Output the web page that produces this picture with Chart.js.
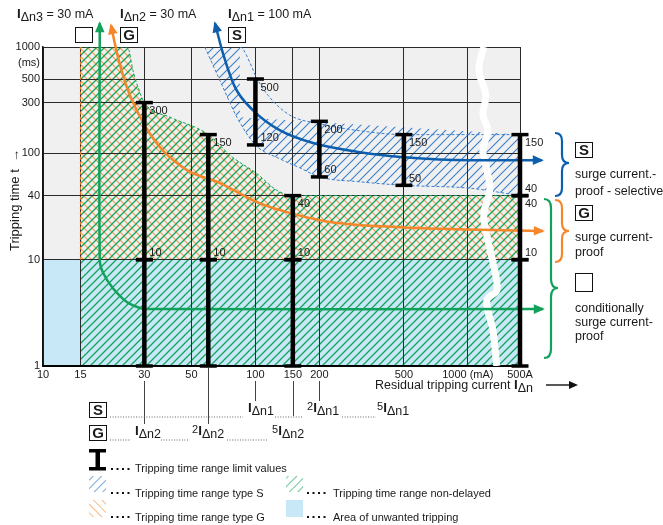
<!DOCTYPE html>
<html>
<head>
<meta charset="utf-8">
<title>RCD tripping time ranges</title>
<script src="https://cdn.jsdelivr.net/npm/chart.js@4.4.1/dist/chart.umd.min.js"></script>
<style>
  body { margin: 0; background: #fff; }
  #wrap { position: relative; width: 663px; height: 525px; overflow: hidden;
          font-family: "Liberation Sans", Arial, sans-serif; color: #1a1a1a; }
  #chart { position: absolute; left: 0; top: 0; }
  #deco { position: absolute; left: 0; top: 0; pointer-events: none; }
  .t { position: absolute; white-space: nowrap; font-size: 12.5px; line-height: 14px; }
  .s { font-size: 11px; }
  .I { font-weight: bold; font-size: 13.5px; }
  .sub { position: relative; top: 3px; }
  .sup { font-size: 11px; position: relative; top: -2px; }
  .box { position: absolute; box-sizing: border-box; width: 18px; height: 16px;
         border: 1.5px solid #111; background: #fff; font-weight: bold;
         font-size: 15px; line-height: 13px; text-align: center; }
</style>
</head>
<body>
<div id="wrap">
  <canvas id="chart" width="663" height="525"></canvas>

  <svg id="deco" width="663" height="525">
    <defs>
      <pattern id="hatchS" patternUnits="userSpaceOnUse" width="6" height="6" patternTransform="rotate(45)">
        <line x1="0" y1="0" x2="0" y2="6" stroke="#2f78c8" stroke-width="1.3"/>
      </pattern>
      <pattern id="hatchG" patternUnits="userSpaceOnUse" width="6" height="6" patternTransform="rotate(-45)">
        <line x1="0" y1="0" x2="0" y2="6" stroke="#f3953f" stroke-width="1.3"/>
      </pattern>
      <pattern id="hatchN" patternUnits="userSpaceOnUse" width="6" height="6" patternTransform="rotate(45)">
        <line x1="0" y1="0" x2="0" y2="6" stroke="#1fa862" stroke-width="1.3"/>
      </pattern>
    </defs>
    <!-- braces -->
    <path d="M555,133 Q562,133 562,141 L562,155 Q562,163 569,163 Q562,163 562,171 L562,188 Q562,196 555,196"
          fill="none" stroke="#0d5fae" stroke-width="2.2"/>
    <path d="M555,200 Q562,200 562,208 L562,223 Q562,231 569,231 Q562,231 562,239 L562,254 Q562,262 555,262"
          fill="none" stroke="#f5862a" stroke-width="2.2"/>
    <path d="M544,199 Q551,199 551,208 L551,279 Q551,288 558,288 Q551,288 551,297 L551,349 Q551,358 544,358"
          fill="none" stroke="#12a15a" stroke-width="2.2"/>
    <!-- x title arrow -->
    <line x1="546" y1="385" x2="571" y2="385" stroke="#111" stroke-width="1.4"/>
    <polygon points="578,385 569,381 569,389" fill="#111"/>
    <!-- dotted guide rows -->
    <g stroke="#666" stroke-width="1" stroke-dasharray="1 1.6">
      <line x1="110" y1="417" x2="243" y2="417"/>
      <line x1="275" y1="417" x2="303" y2="417"/>
      <line x1="342" y1="417" x2="376" y2="417"/>
      <line x1="110" y1="440" x2="131" y2="440"/>
      <line x1="161" y1="440" x2="189" y2="440"/>
      <line x1="227" y1="440" x2="267" y2="440"/>
    </g>
    <!-- legend icons -->
    <rect x="89" y="449" width="17" height="3.5" fill="#000"/>
    <rect x="95.5" y="450" width="4.5" height="19" fill="#000"/>
    <rect x="89" y="467" width="17" height="3.5" fill="#000"/>
    <rect x="89" y="476" width="17" height="16" fill="url(#hatchS)"/>
    <rect x="89" y="500" width="17" height="17" fill="url(#hatchG)"/>
    <rect x="286" y="476" width="17" height="16" fill="url(#hatchN)"/>
    <rect x="286" y="500" width="17" height="17" fill="#c8e8f8"/>
    <g stroke="#111" stroke-width="2" stroke-dasharray="2 3.5">
      <line x1="111" y1="469" x2="133" y2="469"/>
      <line x1="111" y1="493" x2="133" y2="493"/>
      <line x1="111" y1="517" x2="133" y2="517"/>
      <line x1="307" y1="493" x2="329" y2="493"/>
      <line x1="307" y1="517" x2="329" y2="517"/>
    </g>
  </svg>

  <!-- top captions -->
  <div class="t" style="left:17px;top:7px"><span class="I">I</span><span class="sub">Δn3</span> = 30 mA</div>
  <div class="t" style="left:120px;top:7px"><span class="I">I</span><span class="sub">Δn2</span> = 30 mA</div>
  <div class="t" style="left:228px;top:7px"><span class="I">I</span><span class="sub">Δn1</span> = 100 mA</div>
  <div class="box" style="left:75px;top:27px"></div>
  <div class="box" style="left:120px;top:27px">G</div>
  <div class="box" style="left:228px;top:27px">S</div>

  <!-- axis titles -->
  <div class="t s" style="left:14px;top:55px;width:26px;text-align:right">(ms)</div>
  <div class="t" style="left:-50px;top:193px;width:130px;text-align:center;font-size:13px;transform:rotate(-90deg)">Tripping time t &nbsp;→</div>
  <div class="t" style="left:375px;top:378px">Residual tripping current <span class="I">I</span><span class="sub">Δn</span></div>

  <!-- right side classes -->
  <div class="box" style="left:575px;top:142px">S</div>
  <div class="t" style="left:575px;top:166px;line-height:17px">surge current.-<br>proof - selective</div>
  <div class="box" style="left:575px;top:205px">G</div>
  <div class="t" style="left:575px;top:230px;line-height:15px">surge current-<br>proof</div>
  <div class="box" style="left:575px;top:273px;height:19px"></div>
  <div class="t" style="left:575px;top:301px">conditionally<br>surge current-<br>proof</div>

  <!-- multiples of rated current -->
  <div class="box" style="left:89px;top:402px">S</div>
  <div class="t" style="left:248px;top:401px"><span class="I">I</span><span class="sub">Δn1</span></div>
  <div class="t" style="left:307px;top:401px"><span class="sup">2</span><span class="I">I</span><span class="sub">Δn1</span></div>
  <div class="t" style="left:377px;top:401px"><span class="sup">5</span><span class="I">I</span><span class="sub">Δn1</span></div>
  <div class="box" style="left:89px;top:425px">G</div>
  <div class="t" style="left:135px;top:424px"><span class="I">I</span><span class="sub">Δn2</span></div>
  <div class="t" style="left:192px;top:424px"><span class="sup">2</span><span class="I">I</span><span class="sub">Δn2</span></div>
  <div class="t" style="left:272px;top:424px"><span class="sup">5</span><span class="I">I</span><span class="sub">Δn2</span></div>

  <!-- legend -->
  <div class="t s" style="left:135px;top:461px">Tripping time range limit values</div>
  <div class="t s" style="left:135px;top:486px">Tripping time range type S</div>
  <div class="t s" style="left:135px;top:510px">Tripping time range type G</div>
  <div class="t s" style="left:333px;top:486px">Tripping time range non-delayed</div>
  <div class="t s" style="left:333px;top:510px">Area of unwanted tripping</div>
</div>

<script>
// axis ticks (1760 is where the broken axis shows 500 A)
const xTickValues = [10, 15, 30, 50, 100, 150, 200, 500, 1000, 1760];
const xTickLabels = ['10', '15', '30', '50', '100', '150', '200', '500', '1000 (mA)', '500A'];
const yTickValues = [1, 10, 40, 100, 300, 500, 1000];
const yTickLabels = ['1', '10', '40', '100', '300', '500', '1000'];

// limit value bars: [current mA, t min ms, t max ms]
const barsNonDelayed = [[30, 1, 10], [60, 1, 10], [150, 1, 10], [1760, 1, 10]];
const barsTypeG = [[30, 10, 300], [60, 10, 150], [150, 10, 40]];
const barsTypeS = [[100, 120, 500], [200, 60, 200], [500, 50, 150]];
const barsAt500A = [[1760, 40, 150], [1760, 10, 40]];

// plot background and area of unwanted tripping
const plotX = [10, 1760];
const plotY = [1000, 1000];
const unwantedX = [10, 1760];
const unwantedY = [10, 10];

// upper limit of non-delayed / type G range
const rangeGX = [15, 25, 26.5, 28, 30, 39.6, 53, 60, 78, 101, 126, 150, 1760];
const rangeGY = [1000, 1000, 605, 419, 300, 219, 173, 150, 92, 65, 45, 40, 40];
const edgeGX = [15, 15];
const edgeGY = [10, 1000];

// type S band
const rangeSUpperX = [57.8, 84.5, 96.3, 100, 114.5, 145, 200, 310, 500, 1760];
const rangeSUpperY = [1000, 1000, 646, 540, 352, 229, 190, 163, 150, 150];
const rangeSLowerX = [57.8, 70.3, 81.8, 100, 130, 162, 200, 310, 500, 1022, 1760];
const rangeSLowerY = [1000, 419, 219, 120, 89, 73, 60, 54, 50, 47, 40];

// arrows
const blueArrowX = [64.5, 70.3, 80.1, 97.3, 130, 186.5, 310, 500, 1022, 2230];
const blueArrowY = [1674, 875, 419, 255, 165, 125, 102.6, 92, 86.3, 86.3];
const orangeArrowX = [20.9, 22.3, 24.8, 29.2, 35.5, 47.6, 68.1, 101.6, 140.7, 224, 478.6, 2254];
const orangeArrowY = [1603, 875, 419, 205, 114, 69.5, 52.5, 34.8, 28, 22.6, 20.2, 18.6];
const greenArrowX = [18.5, 18.5, 19.2, 21.3, 24.8, 28.6, 30.2, 2254];
const greenArrowY = [1674, 9.9, 7.48, 5.41, 4.0, 3.51, 3.43, 3.43];

// axis break
const breakX = [1189, 1127, 1215, 1177, 1242, 1177, 1229, 1269, 1189, 1242, 1311, 1369, 1229, 1311, 1369];
const breakY = [1000, 605, 352, 229, 165, 107, 69.5, 45.1, 26.3, 15.3, 9.5, 5.18, 4.17, 2.18, 1];

// ticks below the axis for the multiples
const bottomMarkers = [30, 60, 100, 150, 200];

const sBlue = '#0d5fae';
const gOrange = '#f5862a';
const nGreen = '#12a15a';
const FONT = '"Liberation Sans", Arial, sans-serif';

function pts(xs, ys) {
    return xs.map((x, i) => ({ x: x, y: ys[i] }));
}

function hatch(color, size, slash, width) {
    const c = document.createElement('canvas');
    c.width = size;
    c.height = size;
    const g = c.getContext('2d');
    g.strokeStyle = color;
    g.lineWidth = width;
    g.beginPath();
    if (slash) {
        g.moveTo(-1, 1); g.lineTo(1, -1);
        g.moveTo(0, size); g.lineTo(size, 0);
        g.moveTo(size - 1, size + 1); g.lineTo(size + 1, size - 1);
    } else {
        g.moveTo(0, 0); g.lineTo(size, size);
        g.moveTo(-1, size - 1); g.lineTo(1, size + 1);
        g.moveTo(size - 1, -1); g.lineTo(size + 1, 1);
    }
    g.stroke();
    return g.createPattern(c, 'repeat');
}

const barPoints = [];
[...barsNonDelayed, ...barsTypeG, ...barsTypeS, ...barsAt500A].forEach(([cur, lo, hi]) => {
    barPoints.push({ x: cur, y: lo }, { x: cur, y: hi }, { x: cur, y: null });
});

const noLine = { borderColor: 'rgba(0,0,0,0)', borderWidth: 0, pointRadius: 0 };

const datasets = [
    Object.assign({ data: pts(plotX, plotY), fill: 'start', backgroundColor: '#f0f0f0', order: 20 }, noLine),
    Object.assign({ data: pts(unwantedX, unwantedY), fill: 'start', backgroundColor: '#c8e8f8', order: 19 }, noLine),
    Object.assign({ data: pts(rangeGX, rangeGY), fill: { value: 10 }, backgroundColor: hatch('#f39a48', 8, false, 1.1),
        cubicInterpolationMode: 'monotone', order: 18 }, noLine),
    {
        data: pts(rangeGX, rangeGY), fill: 'start', backgroundColor: hatch('#14a35a', 8, true, 1.25),
        borderColor: '#14a35a', borderWidth: 1, borderDash: [3, 2], pointRadius: 0,
        cubicInterpolationMode: 'monotone', order: 17
    },
    {
        data: pts(rangeSLowerX, rangeSLowerY), fill: 5, backgroundColor: hatch('#3a7fcc', 9, true, 1.1),
        borderColor: '#3a7fcc', borderWidth: 1, borderDash: [3, 2], pointRadius: 0,
        cubicInterpolationMode: 'monotone', order: 16
    },
    {
        data: pts(rangeSUpperX, rangeSUpperY), fill: false,
        borderColor: '#3a7fcc', borderWidth: 1, borderDash: [3, 2], pointRadius: 0,
        segment: { borderColor: ctx => ctx.p0DataIndex === 0 ? 'rgba(0,0,0,0)' : '#3a7fcc' },
        cubicInterpolationMode: 'monotone', order: 15
    },
    {
        data: pts(edgeGX, edgeGY), fill: false, borderColor: gOrange, borderWidth: 1,
        borderDash: [3, 2], pointRadius: 0, order: 14
    },
    {
        data: pts(breakX, breakY), fill: false, borderColor: '#ffffff', borderWidth: 7,
        pointRadius: 0, tension: 0.4, order: 13
    },
    {
        data: pts(blueArrowX, blueArrowY), fill: false, borderColor: sBlue, borderWidth: 2.5,
        pointRadius: 0, cubicInterpolationMode: 'monotone', clip: false, arrows: true, order: 12
    },
    {
        data: pts(orangeArrowX, orangeArrowY), fill: false, borderColor: gOrange, borderWidth: 2.5,
        pointRadius: 0, cubicInterpolationMode: 'monotone', clip: false, arrows: true, order: 11
    },
    {
        data: pts(greenArrowX, greenArrowY), fill: false, borderColor: nGreen, borderWidth: 2.5,
        pointRadius: 0, tension: 0.3, clip: false, arrows: true, order: 10
    },
    {
        data: barPoints, fill: false, borderColor: '#000', borderWidth: 4.5, borderCapStyle: 'butt',
        pointStyle: 'line', pointRadius: 8.5, pointBorderWidth: 3.5, pointBorderColor: '#000',
        spanGaps: false, clip: false, order: 1
    }
];

function drawHead(ctx, tip, from, color) {
    const ang = Math.atan2(tip.y - from.y, tip.x - from.x);
    const len = 11, half = 4.8;
    const tx = tip.x + Math.cos(ang) * 2, ty = tip.y + Math.sin(ang) * 2;
    ctx.fillStyle = color;
    ctx.beginPath();
    ctx.moveTo(tx, ty);
    ctx.lineTo(tx - len * Math.cos(ang) + half * Math.sin(ang), ty - len * Math.sin(ang) - half * Math.cos(ang));
    ctx.lineTo(tx - len * Math.cos(ang) - half * Math.sin(ang), ty - len * Math.sin(ang) + half * Math.cos(ang));
    ctx.closePath();
    ctx.fill();
}

const arrowPlugin = {
    id: 'arrowHeads',
    afterDatasetsDraw(chart) {
        const ctx = chart.ctx;
        ctx.save();
        chart.data.datasets.forEach((ds, i) => {
            if (!ds.arrows) return;
            const p = chart.getDatasetMeta(i).data;
            const n = p.length;
            drawHead(ctx, p[0], p[1], ds.borderColor);
            drawHead(ctx, p[n - 1], p[n - 2], ds.borderColor);
        });
        ctx.restore();
    }
};

const barLabelPlugin = {
    id: 'barLabels',
    afterDatasetsDraw(chart) {
        const { ctx, scales: { x, y } } = chart;
        ctx.save();
        ctx.font = '11px ' + FONT;
        ctx.fillStyle = '#1a1a1a';
        ctx.textAlign = 'left';
        [...barsTypeG, ...barsTypeS, ...barsAt500A].forEach(([cur, lo, hi]) => {
            const px = x.getPixelForValue(cur) + 5;
            ctx.textBaseline = 'top';
            ctx.fillText(String(hi), px, y.getPixelForValue(hi) + 3);
            ctx.textBaseline = 'bottom';
            ctx.fillText(String(lo), px, y.getPixelForValue(lo) - 1);
        });
        ctx.restore();
    }
};

const markerPlugin = {
    id: 'bottomMarkers',
    afterDraw(chart) {
        const { ctx, scales: { x }, chartArea } = chart;
        const reach = { 30: 58, 60: 58, 100: 35, 150: 50, 200: 35 };
        ctx.save();
        ctx.strokeStyle = '#444';
        ctx.lineWidth = 1;
        bottomMarkers.forEach(v => {
            const px = Math.round(x.getPixelForValue(v)) + 0.5;
            const start = v === 60 ? chartArea.bottom + 2 : chartArea.bottom + 15;
            ctx.beginPath();
            ctx.moveTo(px, start);
            ctx.lineTo(px, chartArea.bottom + reach[v]);
            ctx.stroke();
        });
        ctx.restore();
    }
};

window.onload = function () {
    const ctx = document.getElementById('chart').getContext('2d');
    new Chart(ctx, {
        type: 'line',
        data: { datasets: datasets },
        options: {
            responsive: false,
            animation: false,
            events: [],
            layout: { padding: { left: 0, top: 47, right: 143, bottom: 0 } },
            elements: { line: { capBezierPoints: false } },
            plugins: {
                legend: { display: false },
                tooltip: { enabled: false },
                filler: { propagate: false, drawTime: 'beforeDraw' }
            },
            scales: {
                x: {
                    type: 'logarithmic',
                    min: 10,
                    max: 1760,
                    afterBuildTicks: s => { s.ticks = xTickValues.map(v => ({ value: v })); },
                    afterFit: s => { s.height = 159; },
                    ticks: {
                        autoSkip: false,
                        maxRotation: 0,
                        padding: 2,
                        color: '#1a1a1a',
                        font: { family: FONT, size: 11 },
                        callback: v => xTickLabels[xTickValues.indexOf(v)]
                    },
                    grid: { color: '#2a2a2a', lineWidth: 1, drawTicks: false },
                    border: { color: '#000', width: 2 }
                },
                y: {
                    type: 'logarithmic',
                    min: 1,
                    max: 1000,
                    afterBuildTicks: s => { s.ticks = yTickValues.map(v => ({ value: v })); },
                    afterFit: s => { s.width = 43; },
                    ticks: {
                        padding: 3,
                        color: '#1a1a1a',
                        font: { family: FONT, size: 11 },
                        callback: v => yTickLabels[yTickValues.indexOf(v)]
                    },
                    grid: { color: '#2a2a2a', lineWidth: 1, drawTicks: false },
                    border: { color: '#111', width: 1.5 }
                }
            }
        },
        plugins: [arrowPlugin, barLabelPlugin, markerPlugin]
    });
};
</script>
</body>
</html>
